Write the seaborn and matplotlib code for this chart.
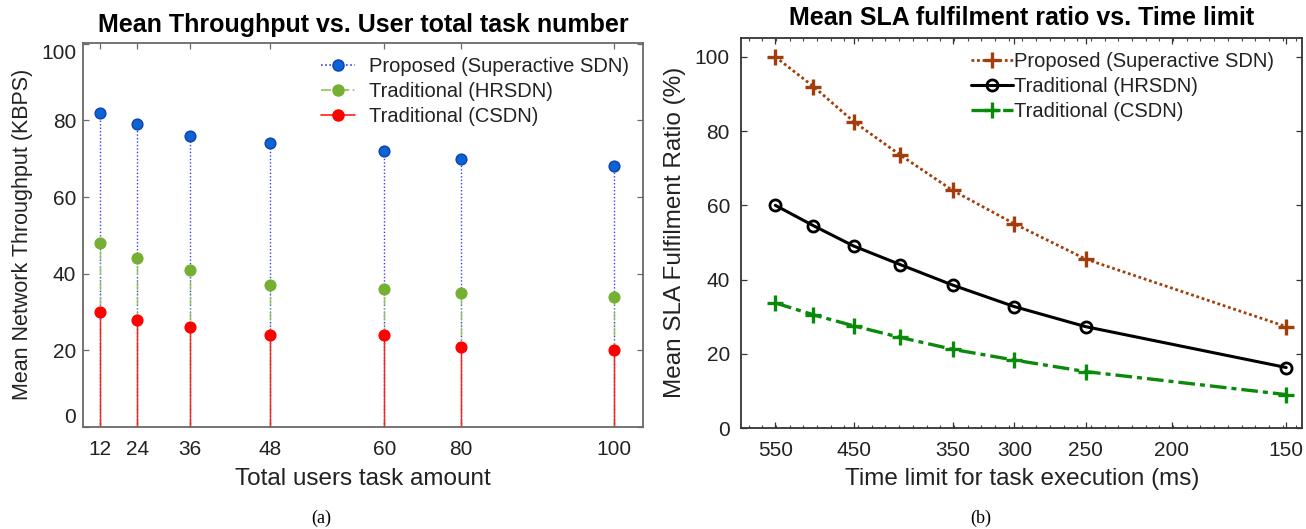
"""Throughput and SLA fulfilment comparison of the SDN controllers."""

import matplotlib

matplotlib.use("Agg")

import matplotlib.pyplot as plt
import numpy as np
import pandas as pd
import seaborn as sns
from matplotlib.legend_handler import HandlerLine2D
from matplotlib.lines import Line2D
from matplotlib.ticker import FixedLocator, NullFormatter

# ---- data: panel (a) -------------------------------------------------------
TASK_AMOUNT = [12, 24, 36, 48, 60, 80, 100]
THROUGHPUT_PROPOSED = [82, 79, 76, 74, 72, 70, 68]
THROUGHPUT_HRSDN = [48, 44, 41, 37, 36, 35, 34]
THROUGHPUT_CSDN = [30, 28, 26, 24, 24, 21, 20]

# ---- data: panel (b) -------------------------------------------------------
TIME_LIMIT = [550, 500, 450, 400, 350, 300, 250, 150]
SLA_PROPOSED = [100, 92, 82.5, 73.5, 64, 55, 45.5, 27.3]
SLA_HRSDN = [60, 54.5, 49, 44, 38.5, 32.7, 27.3, 16.3]
SLA_CSDN = [33.7, 30.5, 27.5, 24.4, 21.2, 18.3, 15.2, 9]

SERIES_NAMES = ["Proposed (Superactive SDN)", "Traditional (HRSDN)", "Traditional (CSDN)"]
TIME_TICKS = [550, 450, 350, 300, 250, 200, 150]
Y_TICKS = [0, 20, 40, 60, 80, 100]

# The source figure uses an uneven x axis; these anchors give the fraction of
# the axis width where each labelled value sits.
TASK_AXIS_ANCHORS = ([12, 24, 36, 48, 60, 80, 100],
                     [0.031, 0.097, 0.191, 0.334, 0.538, 0.674, 0.948])
# panel (b) runs from 550 on the left to 150 on the right
TIME_AXIS_ANCHORS = ([550, 500, 450, 400, 350, 300, 250, 200, 150],
                     [0.061, 0.129, 0.201, 0.284, 0.377, 0.487, 0.614, 0.767, 0.971])


def _piecewise(src, dst):
    order = np.argsort(src)
    src = np.asarray(src, float)[order]
    dst = np.asarray(dst, float)[order]
    slope_lo = (dst[1] - dst[0]) / (src[1] - src[0])
    slope_hi = (dst[-1] - dst[-2]) / (src[-1] - src[-2])

    def fn(v):
        v = np.asarray(v, float)
        out = np.interp(v, src, dst)
        out = np.where(v < src[0], dst[0] + (v - src[0]) * slope_lo, out)
        out = np.where(v > src[-1], dst[-1] + (v - src[-1]) * slope_hi, out)
        return out

    return fn


def _uneven_xaxis(ax, anchors, reverse=False):
    """Increasing function scale; reverse=True flips it so big values sit left."""
    vals, frac = anchors
    if reverse:
        frac = [1.0 - f for f in frac]
    fwd = _piecewise(vals, frac)
    inv = _piecewise(frac, vals)
    ax.set_xscale("function", functions=(fwd, inv))
    lo, hi = float(inv(0.0)), float(inv(1.0))
    if reverse:
        ax.set_xlim(hi, lo)
    else:
        ax.set_xlim(lo, hi)
    return inv


class _EndMarkerHandler(HandlerLine2D):
    """Legend handle with the marker at the right end of the line."""

    def get_xdata(self, legend, xdescent, ydescent, width, height, fontsize):
        xdata = np.array([-xdescent, -xdescent + width])
        return xdata, np.array([-xdescent + width])


sns.set_theme(style="ticks")
plt.rcParams["font.family"] = ["Liberation Sans", "DejaVu Sans"]
plt.rcParams["text.color"] = "#222222"
plt.rcParams["axes.labelcolor"] = "#222222"

fig = plt.figure(figsize=(13.06, 5.29), dpi=100)
ax_a = fig.add_axes([0.0636, 0.1928, 0.4288, 0.7265])
ax_b = fig.add_axes([0.5674, 0.1909, 0.4299, 0.7382])

# ---- panel (a): stems ------------------------------------------------------
thr = pd.DataFrame({
    "tasks": TASK_AMOUNT * 3,
    "throughput": THROUGHPUT_PROPOSED + THROUGHPUT_HRSDN + THROUGHPUT_CSDN,
    "series": sum([[name] * len(TASK_AMOUNT) for name in SERIES_NAMES], []),
})
stem_styles = {
    SERIES_NAMES[0]: dict(color="#3a3aff", ls=(0, (1, 1.5)), face="#0a64d2", edge="#1040b0"),
    SERIES_NAMES[1]: dict(color="#8cc35a", ls=(0, (6, 2, 1, 2)), face="#76b032", edge="#76b032"),
    SERIES_NAMES[2]: dict(color="#ff2020", ls="-", face="#ff0000", edge="#ff0000"),
}

_uneven_xaxis(ax_a, TASK_AXIS_ANCHORS)
for name in SERIES_NAMES:
    sub = thr[thr["series"] == name]
    st = stem_styles[name]
    ax_a.vlines(sub["tasks"], 0, sub["throughput"], colors=st["color"],
                linestyles=st["ls"], linewidth=1.0, zorder=2)
for name in SERIES_NAMES:
    sub = thr[thr["series"] == name]
    st = stem_styles[name]
    sns.scatterplot(data=sub, x="tasks", y="throughput", ax=ax_a, s=60,
                    color=st["face"], edgecolor=st["edge"], linewidth=1.0,
                    zorder=3, legend=False)
_uneven_xaxis(ax_a, TASK_AXIS_ANCHORS)

ax_a.set_ylim(0, 100.3)
ax_a.set_xticks(TASK_AMOUNT)
ax_a.set_xticklabels([str(v) for v in TASK_AMOUNT])
ax_a.xaxis.set_minor_locator(FixedLocator([]))
ax_a.set_yticks(Y_TICKS)
ax_a.set_title("Mean Throughput vs. User total task number", fontsize=18,
               fontweight="bold", color="black", pad=8)
ax_a.set_xlabel("Total users task amount", fontsize=17.5, labelpad=7)
ax_a.set_ylabel("Mean Network Throughput (KBPS)", fontsize=15.5, labelpad=6)

handles_a = [
    Line2D([], [], color=stem_styles[n]["color"], ls=stem_styles[n]["ls"], lw=1.2,
           marker="o", ms=8, mfc=stem_styles[n]["face"], mec=stem_styles[n]["edge"])
    for n in SERIES_NAMES
]
ax_a.legend(handles_a, SERIES_NAMES, loc="upper right", frameon=False, fontsize=14.5,
            handlelength=1.7, handletextpad=0.7, labelspacing=0.3,
            borderaxespad=0.3, bbox_to_anchor=(1.0, 1.0),
            handler_map={Line2D: _EndMarkerHandler()})

# ---- panel (b): lines ------------------------------------------------------
sla = pd.DataFrame({
    "limit": TIME_LIMIT * 3,
    "ratio": SLA_PROPOSED + SLA_HRSDN + SLA_CSDN,
    "series": sum([[name] * len(TIME_LIMIT) for name in SERIES_NAMES], []),
})
line_styles = {
    SERIES_NAMES[0]: dict(color="#a33d0c", linestyle=(0, (1, 1)), linewidth=2.0),
    SERIES_NAMES[1]: dict(color="black", linestyle="-", linewidth=2.2),
    SERIES_NAMES[2]: dict(color="#0a8a0a", linestyle=(0, (5, 1.5, 1.5, 1.5)), linewidth=2.4),
}
marker_styles = {
    SERIES_NAMES[0]: dict(marker="+", markersize=11, markeredgewidth=2.4,
                          markeredgecolor="#a33d0c"),
    SERIES_NAMES[1]: dict(marker="o", markersize=8, markeredgewidth=2.0,
                          markerfacecolor="none", markeredgecolor="black"),
    SERIES_NAMES[2]: dict(marker="+", markersize=11, markeredgewidth=2.4,
                          markeredgecolor="#0a8a0a"),
}

_uneven_xaxis(ax_b, TIME_AXIS_ANCHORS, reverse=True)
lines_b = []
for name in SERIES_NAMES:
    sns.lineplot(data=sla[sla["series"] == name], x="limit", y="ratio", ax=ax_b,
                 label=name, estimator=None, sort=False, **line_styles[name])
    line = ax_b.lines[-1]
    line.set(**marker_styles[name])
    lines_b.append(line)
inv_b = _uneven_xaxis(ax_b, TIME_AXIS_ANCHORS, reverse=True)

ax_b.set_ylim(0, 105.2)
ax_b.set_xticks(TIME_TICKS)
ax_b.set_xticklabels([str(v) for v in TIME_TICKS])
ax_b.xaxis.set_minor_locator(FixedLocator(inv_b(np.arange(0.011, 1.0, 1 / 41))))
ax_b.xaxis.set_minor_formatter(NullFormatter())
ax_b.set_yticks(Y_TICKS)
ax_b.set_title("Mean SLA fulfilment ratio vs. Time limit", fontsize=18,
               fontweight="bold", color="black", pad=9)
ax_b.set_xlabel("Time limit for task execution (ms)", fontsize=17.5, labelpad=6)
ax_b.set_ylabel("Mean SLA Fulfilment Ratio (%)", fontsize=17.5, labelpad=6)
ax_b.legend(lines_b, SERIES_NAMES, loc="upper right", frameon=False, fontsize=14.5,
            handlelength=2.1, handletextpad=0.05, labelspacing=0.3,
            borderaxespad=0.3, bbox_to_anchor=(0.975, 1.0))

# ---- shared axis cosmetics --------------------------------------------------
for ax, frame_color in ((ax_a, "#6a6a6a"), (ax_b, "#333333")):
    for spine in ax.spines.values():
        spine.set_visible(True)
        spine.set_color(frame_color)
        spine.set_linewidth(1.3)
    ax.tick_params(axis="both", which="major", direction="in", length=4, width=0.9,
                   top=True, right=True, labelsize=15, colors=frame_color,
                   labelcolor="#222222", pad=9)
    ax.tick_params(axis="x", which="minor", direction="in", length=2.5, width=0.8,
                   top=True, bottom=True, colors="#444444")

# the end labels on panel (a) are pulled inside the frame
ylabels_a = ax_a.get_yticklabels()
ylabels_a[0].set_va("bottom")
ylabels_a[-1].set_va("top")
ax_a.tick_params(axis="y", pad=5)
ax_b.tick_params(axis="y", pad=8)

fig.text(0.2458, 0.021, "(a)", ha="center", va="center", fontsize=13,
         family=["Liberation Serif", "DejaVu Serif"], color="black")
fig.text(0.751, 0.021, "(b)", ha="center", va="center", fontsize=13,
         family=["Liberation Serif", "DejaVu Serif"], color="black")

fig.savefig("out.png", dpi=100)
